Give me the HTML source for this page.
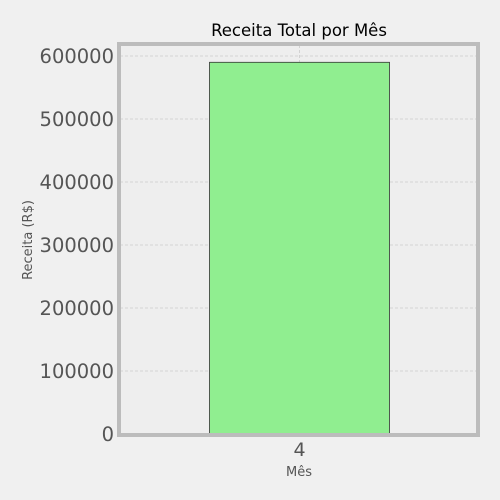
<!DOCTYPE html>
<html><head><meta charset="utf-8"><style>
body{margin:0;background:#f0f0f0;}
svg{display:block;font-family:"DejaVu Sans","Liberation Sans",sans-serif;}
</style></head><body>
<svg id="chart" width="500" height="500">
<rect width="500" height="500" fill="#f0f0f0"/>
<text x="299" y="36" text-anchor="middle" font-size="16.5" fill="#000">Receita Total por Mês</text>
<rect x="120" y="45" width="357" height="389" fill="#eeeeee"/>
<g id="grid"></g>
<g id="bars"></g>
<rect x="119" y="44" width="359" height="391" fill="none" stroke="#bcbcbc" stroke-width="4"/>
<g id="yticks"></g>
<g id="xticks"></g>
<text x="299" y="476" text-anchor="middle" font-size="13" fill="#555">Mês</text>
<text transform="translate(32,240) rotate(-90)" text-anchor="middle" font-size="13" fill="#555">Receita (R$)</text>
</svg>
<script>
const categories=["4"];
const values=[590000];
const yTicks=[0,100000,200000,300000,400000,500000,600000];
const NS="http://www.w3.org/2000/svg";
const y0=434, yTop=56, yMax=600000;
function y(v){return y0-(v/yMax)*(y0-yTop);}
const xL=121,xR=478,n=categories.length,band=(xR-xL)/n;
function xc(i){return xL+band*(i+0.5);}
const bw=180;
const grid=document.getElementById('grid'),bars=document.getElementById('bars'),yt=document.getElementById('yticks'),xt=document.getElementById('xticks');
function mk(t,a){const e=document.createElementNS(NS,t);for(const k in a)e.setAttribute(k,a[k]);return e;}
yTicks.forEach(v=>{
  const l=mk('line',{x1:120,x2:477,y1:y(v),y2:y(v),stroke:'#cbcbcb','stroke-width':0.8,'stroke-dasharray':'3,2'});
  
  
  grid.appendChild(l);
  const t=mk('text',{x:114,y:y(v)+7,'text-anchor':'end','font-size':19.5,fill:'#555'});
  t.textContent=String(v);
  
  
  yt.appendChild(t);
});
categories.forEach((c,i)=>{
  const l=mk('line',{x1:xc(i),x2:xc(i),y1:45,y2:434,stroke:'#cbcbcb','stroke-width':0.8,'stroke-dasharray':'3,2'});
  
  
  grid.appendChild(l);
  const r=mk('rect',{x:xc(i)-bw/2,y:y(values[i]),width:bw,height:y0-y(values[i]),fill:'#90ee90',stroke:'#333','stroke-width':0.8});
  
  
  bars.appendChild(r);
  const t=mk('text',{x:xc(i),y:456,'text-anchor':'middle','font-size':19,fill:'#555'});
  t.textContent=c;
  
  
  xt.appendChild(t);
});
</script>
</body></html>
